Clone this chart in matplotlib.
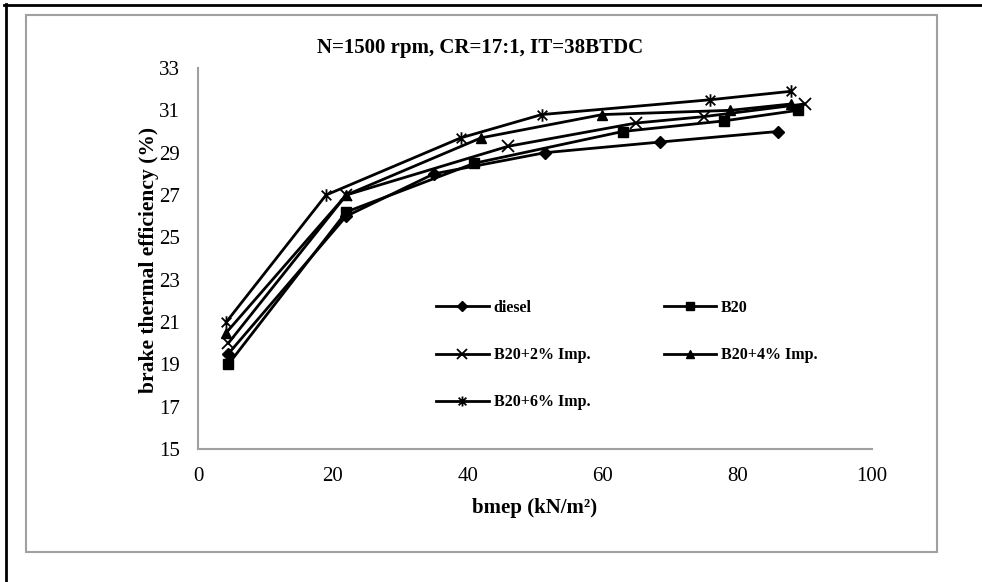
import matplotlib
matplotlib.use("Agg")
import matplotlib.pyplot as plt
from matplotlib.path import Path
from matplotlib.lines import Line2D
from matplotlib.patches import Rectangle

# datos
bmep_diesel = [4.5, 22, 35, 51.5, 68.5, 86]
bte_diesel  = [19.5, 26.0, 28.0, 29.0, 29.5, 30.0]

bmep_b20 = [4.5, 22, 41, 63, 78, 89]
bte_b20  = [19.0, 26.2, 28.5, 30.0, 30.5, 31.0]

bmep_b20_2 = [4.5, 22, 46, 65, 75, 90]
bte_b20_2  = [20.0, 27.0, 29.3, 30.4, 30.7, 31.3]

bmep_b20_4 = [4.2, 22, 42, 60, 79, 88]
bte_b20_4  = [20.5, 27.0, 29.7, 30.8, 31.0, 31.3]

bmep_b20_6 = [4.2, 19, 39, 51, 76, 88]
bte_b20_6  = [21.0, 27.0, 29.7, 30.8, 31.5, 31.9]

labels = ["diesel", "B20", "B20+2% Imp.", "B20+4% Imp.", "B20+6% Imp."]
y_ticks = [15, 17, 19, 21, 23, 25, 27, 29, 31, 33]
x_ticks = [0, 20, 40, 60, 80, 100]

plt.rcParams["font.family"] = ["Liberation Serif", "DejaVu Serif"]

# marcador asterisco estilo Excel (X + linea vertical)
star_path = Path(
    [(-1, -1), (1, 1), (-1, 1), (1, -1), (0, -1.3), (0, 1.3)],
    [Path.MOVETO, Path.LINETO, Path.MOVETO, Path.LINETO, Path.MOVETO, Path.LINETO],
)

fig = plt.figure(figsize=(9.82, 5.82), dpi=100)
ax = fig.add_axes([198 / 982, 1 - 449 / 582, 674 / 982, 381 / 582])

kw = dict(color="black", lw=2, mec="black", mfc="black")
l1, = ax.plot(bmep_diesel, bte_diesel, marker="D", ms=6, label=labels[0], **kw)
l2, = ax.plot(bmep_b20, bte_b20, marker="s", ms=7, label=labels[1], **kw)
l3, = ax.plot(bmep_b20_2, bte_b20_2, marker="x", ms=9, mew=1.3, label=labels[2], **kw)
l4, = ax.plot(bmep_b20_4, bte_b20_4, marker="^", ms=7, label=labels[3], **kw)
l5, = ax.plot(bmep_b20_6, bte_b20_6, marker=star_path, ms=9, mew=1.3, label=labels[4], **kw)

ax.set_xlim(0, 100)
ax.set_ylim(15, 33)
ax.set_xticks(x_ticks)
ax.set_yticks(y_ticks)
ax.tick_params(length=0, labelsize=15, pad=13)
for s in ["top", "right"]:
    ax.spines[s].set_visible(False)
for s in ["left", "bottom"]:
    ax.spines[s].set_color("#a0a0a0")
    ax.spines[s].set_linewidth(1.5)

# leyenda en filas: reordenar para ncol=2
handles = [l1, l3, l5, l2, l4]
ax.legend(handles, [h.get_label() for h in handles], ncol=2,
          loc="upper left", bbox_to_anchor=(436 / 982, 1 - 300 / 582),
          bbox_transform=fig.transFigure, frameon=False,
          prop=dict(weight="bold", size=11.5), borderpad=0, borderaxespad=0,
          handlelength=3.3, handletextpad=0.3, labelspacing=1.95,
          columnspacing=4.6, markerscale=0.8)

fig.text(480 / 982, 1 - 48 / 582, "N=1500 rpm, CR=17:1, IT=38BTDC",
         ha="center", va="center", fontsize=15, fontweight="bold")
fig.text(149 / 982, 1 - 260 / 582, "brake thermal efficiency (%)",
         ha="center", va="center", rotation=90, fontsize=15.5, fontweight="bold")
fig.text(535 / 982, 1 - 508 / 582, "bmep (kN/m²)",
         ha="center", va="center", fontsize=15, fontweight="bold")

# marcos exteriores
fig.patches.append(Rectangle((25.5 / 982, 1 - 552 / 582), 911 / 982, 537 / 582,
                             transform=fig.transFigure, fill=False,
                             edgecolor="#a0a0a0", lw=1.5))
fig.lines.append(Line2D([5.5 / 982, 5.5 / 982], [0, 1 - 4 / 582],
                        transform=fig.transFigure, color="black", lw=2))
fig.lines.append(Line2D([4 / 982, 1], [1 - 5 / 582, 1 - 5 / 582],
                        transform=fig.transFigure, color="black", lw=2))

fig.savefig("out.png", dpi=100)
